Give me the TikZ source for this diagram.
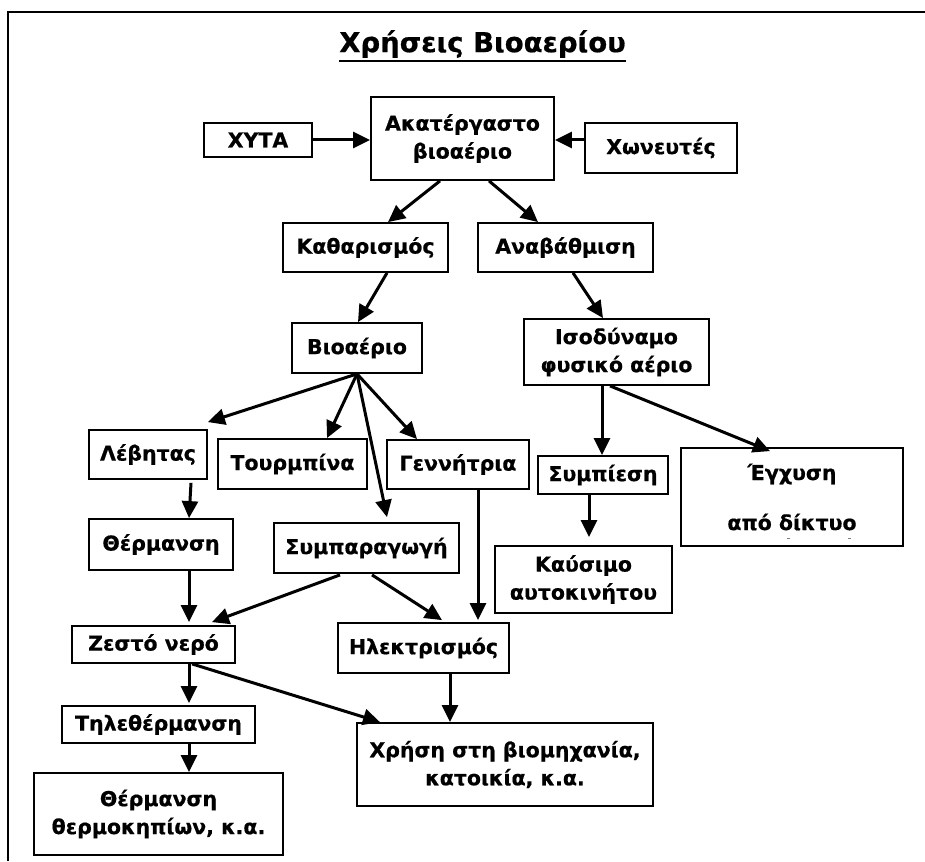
\documentclass[tikz,border=0pt]{standalone}
\usepackage{fontspec}
\setmainfont{DejaVu Sans}[BoldFeatures={FakeBold=0.6}]
\usetikzlibrary{arrows.meta,calc}
\tikzset{
  box/.style={draw=black, line width=1.8pt, rectangle, inner sep=0pt, align=center,
    font=\bfseries\fontsize{20.5}{28}\selectfont},
  arr/.style={line width=3pt, -{Triangle[length=17pt,width=16pt]}},
}
\newcommand{\bx}[6]{\node[box, minimum width=#4pt, minimum height=#5pt] (#1) at (#2,#3) {#6};}
\begin{document}
\begin{tikzpicture}[x=1pt,y=-1pt]
\useasboundingbox (0,0) rectangle (925,861);
\draw[line width=2pt] (925,12) -- (8,12) -- (8,861);
\node[font=\bfseries\fontsize{27.5}{32}\selectfont, inner sep=0pt] (title) at (482.5,44) {Χρήσεις Βιοαερίου};
\draw[line width=2pt] ($(title.south west)+(0,3)$) -- ($(title.south east)+(0,3)$);
\bx{xyta}{258}{140}{108}{34}{ΧΥΤΑ}
\bx{akat}{462.5}{138.5}{183}{83}{Ακατέργαστο\\βιοαέριο}
\bx{xon}{661}{148}{152}{50}{Χωνευτές}
\bx{kath}{365.5}{247.5}{165}{49}{Καθαρισμός}
\bx{anav}{565.5}{247.5}{175}{49}{Αναβάθμιση}
\bx{bio}{357}{348}{130}{50}{Βιοαέριο}
\bx{iso}{616.5}{352}{185}{66}{Ισοδύναμο\\φυσικό αέριο}
\bx{lev}{148}{454.5}{118}{49}{Λέβητας}
\bx{tour}{292.5}{464}{149}{50}{Τουρμπίνα}
\bx{genn}{458}{464.5}{142}{49}{Γεννήτρια}
\bx{symp}{603}{475}{130}{38}{Συμπίεση}
\bx{egx}{792}{497}{222}{98}{Έγχυση\\[22pt]από δίκτυο}
\bx{therm}{161}{544.5}{144}{51}{Θέρμανση}
\bx{sympar}{366.5}{548}{185}{50}{Συμπαραγωγή}
\bx{kaus}{583.5}{579.5}{177}{67}{Καύσιμο\\αυτοκινήτου}
\bx{zesto}{153.5}{644.5}{163}{37}{Ζεστό νερό}
\bx{ilek}{423.5}{648}{171}{50}{Ηλεκτρισμός}
\bx{tile}{158.5}{724.5}{193}{37}{Τηλεθέρμανση}
\bx{xrisi}{505}{764.5}{296}{83}{Χρήση στη βιομηχανία,\\κατοικία, κ.α.}
\bx{thermok}{158.5}{814}{249}{82}{Θέρμανση\\θερμοκηπίων, κ.α.}
\draw[line width=1pt, gray] ($(egx.south)+(-5,-8)$) -- ++(3,0);
\draw[line width=1pt, gray] ($(egx.south)+(56,-8)$) -- ++(3,0);
\draw[arr] (xyta.east) -- (akat.west |- xyta.east);
\draw[arr] ($(xon.west)+(0,-8)$) -- ($(akat.east)+(0,1.5)$);
\draw[arr] ($(akat.south)+(-22.5,0)$) -- ($(kath.north)+(22.5,0)$);
\draw[arr] ($(akat.south)+(26.5,0)$) -- ($(anav.north)+(-27.5,0)$);
\draw[arr] ($(kath.south)+(21.5,0)$) -- ($(bio.north)+(1,0)$);
\draw[arr] ($(anav.south)+(7.5,0)$) -- ($(iso.north)+(-13.5,0)$);
\draw[arr] (bio.south) -- ($(lev.north east)+(0,-7)$);
\draw[arr] (bio.south) -- ($(tour.north)+(34.5,0)$);
\draw[arr] (bio.south) -- ($(genn.north)+(-41,0)$);
\draw[arr] (bio.south) -- ($(sympar.north)+(20.5,-5)$);
\draw[arr] ($(lev.south)+(43,3)$) -- ($(therm.north)+(28,0)$);
\draw[arr] ($(iso.south)+(-14.5,0)$) -- ($(symp.north)+(-1,0)$);
\draw[arr] ($(iso.south)+(-6.5,0)$) -- ($(egx.north)+(-22,4)$);
\draw[arr] ($(symp.south)+(-14,0)$) -- ($(kaus.north)+(5.5,-8)$);
\draw[arr] ($(genn.south)+(20,0)$) -- ($(ilek.north)+(54.5,-2)$);
\draw[arr] ($(therm.south)+(28,0)$) -- ($(zesto.north)+(35.5,-3)$);
\draw[arr] ($(sympar.south)+(-26.5,1)$) -- ($(zesto.north)+(58.5,-3)$);
\draw[arr] ($(sympar.south)+(5.5,1)$) -- ($(ilek.north)+(18.5,-2)$);
\draw[arr] ($(zesto.south)+(35.5,0)$) -- ($(tile.north)+(30.5,-2)$);
\draw[arr] ($(zesto.south)+(38.5,0)$) -- ($(xrisi.north)+(-125,0)$);
\draw[arr] ($(ilek.south)+(26.5,0)$) -- ($(xrisi.north)+(-55,0)$);
\draw[arr] ($(tile.south)+(30.5,0)$) -- ($(thermok.north)+(30.5,0)$);
\end{tikzpicture}
\end{document}
